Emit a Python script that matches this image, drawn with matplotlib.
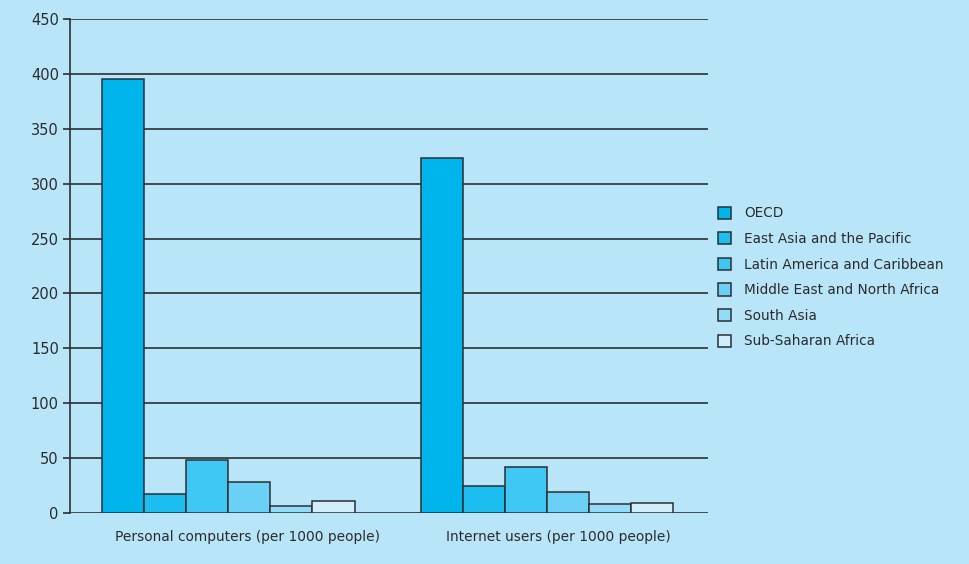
import numpy as np
import matplotlib.pyplot as plt
from matplotlib.transforms import ScaledTranslation

plt.rcParams["font.family"] = ["Liberation Sans Narrow", "DejaVu Sans"]

categories = ["Personal computers (per 1000 people)", "Internet users (per 1000 people)"]
regions = ["OECD", "East Asia and the Pacific", "Latin America and Caribbean",
           "Middle East and North Africa", "South Asia", "Sub-Saharan Africa"]
pc_values = [395, 17, 48, 28, 6, 11]
internet_values = [323, 25, 42, 19, 8, 9.5]
colors = ["#00b4ec", "#1cbef0", "#40c8f4", "#6ad0f6", "#92dcf8", "#d2edfb"]

bg = "#b9e5f9"
edge = "#2b2f33"

fig = plt.figure(figsize=(9.69, 5.64), dpi=100, facecolor=bg)
ax = fig.add_axes([0.0722, 0.0904, 0.6584, 0.8759], facecolor=bg)

x = np.arange(len(categories))
width = 0.132
for i, region in enumerate(regions):
    vals = [pc_values[i], internet_values[i]]
    offset = (i - 2.5) * width - 0.004
    ax.bar(x + offset, vals, width, color=colors[i], edgecolor=edge,
           linewidth=1.1, label=region, zorder=3)

ax.set_xlim(-0.5, 1.5)
ax.set_ylim(0, 450)
ax.set_yticks(range(0, 451, 50))
ax.set_xticks(x)
ax.set_xticklabels(categories, fontsize=9.9, color="#2b2b2b")
ax.tick_params(axis="x", length=0, pad=12)
ax.tick_params(axis="y", length=5, width=1.2, color=edge, labelsize=10.5, labelcolor="#2b2b2b", pad=3)

# the category labels sit a little right of the group centres
for lbl, dx in zip(ax.get_xticklabels(), [0.18, 0.10]):
    lbl.set_transform(lbl.get_transform() + ScaledTranslation(dx, 0, fig.dpi_scale_trans))

ax.yaxis.grid(True, color=edge, linewidth=1.2, zorder=1)
ax.set_axisbelow(True)
for s in ["top", "right", "bottom"]:
    ax.spines[s].set_visible(False)
ax.spines["left"].set_color(edge)
ax.spines["left"].set_linewidth(1.2)

ax.legend(loc="center left", bbox_to_anchor=(1.007, 0.477), frameon=False,
          fontsize=9.8, handlelength=1.0, handleheight=1.0, labelspacing=0.85,
          handletextpad=0.95, borderaxespad=0, labelcolor="#2b2b2b")

fig.savefig("out.png", dpi=100, facecolor=bg)
